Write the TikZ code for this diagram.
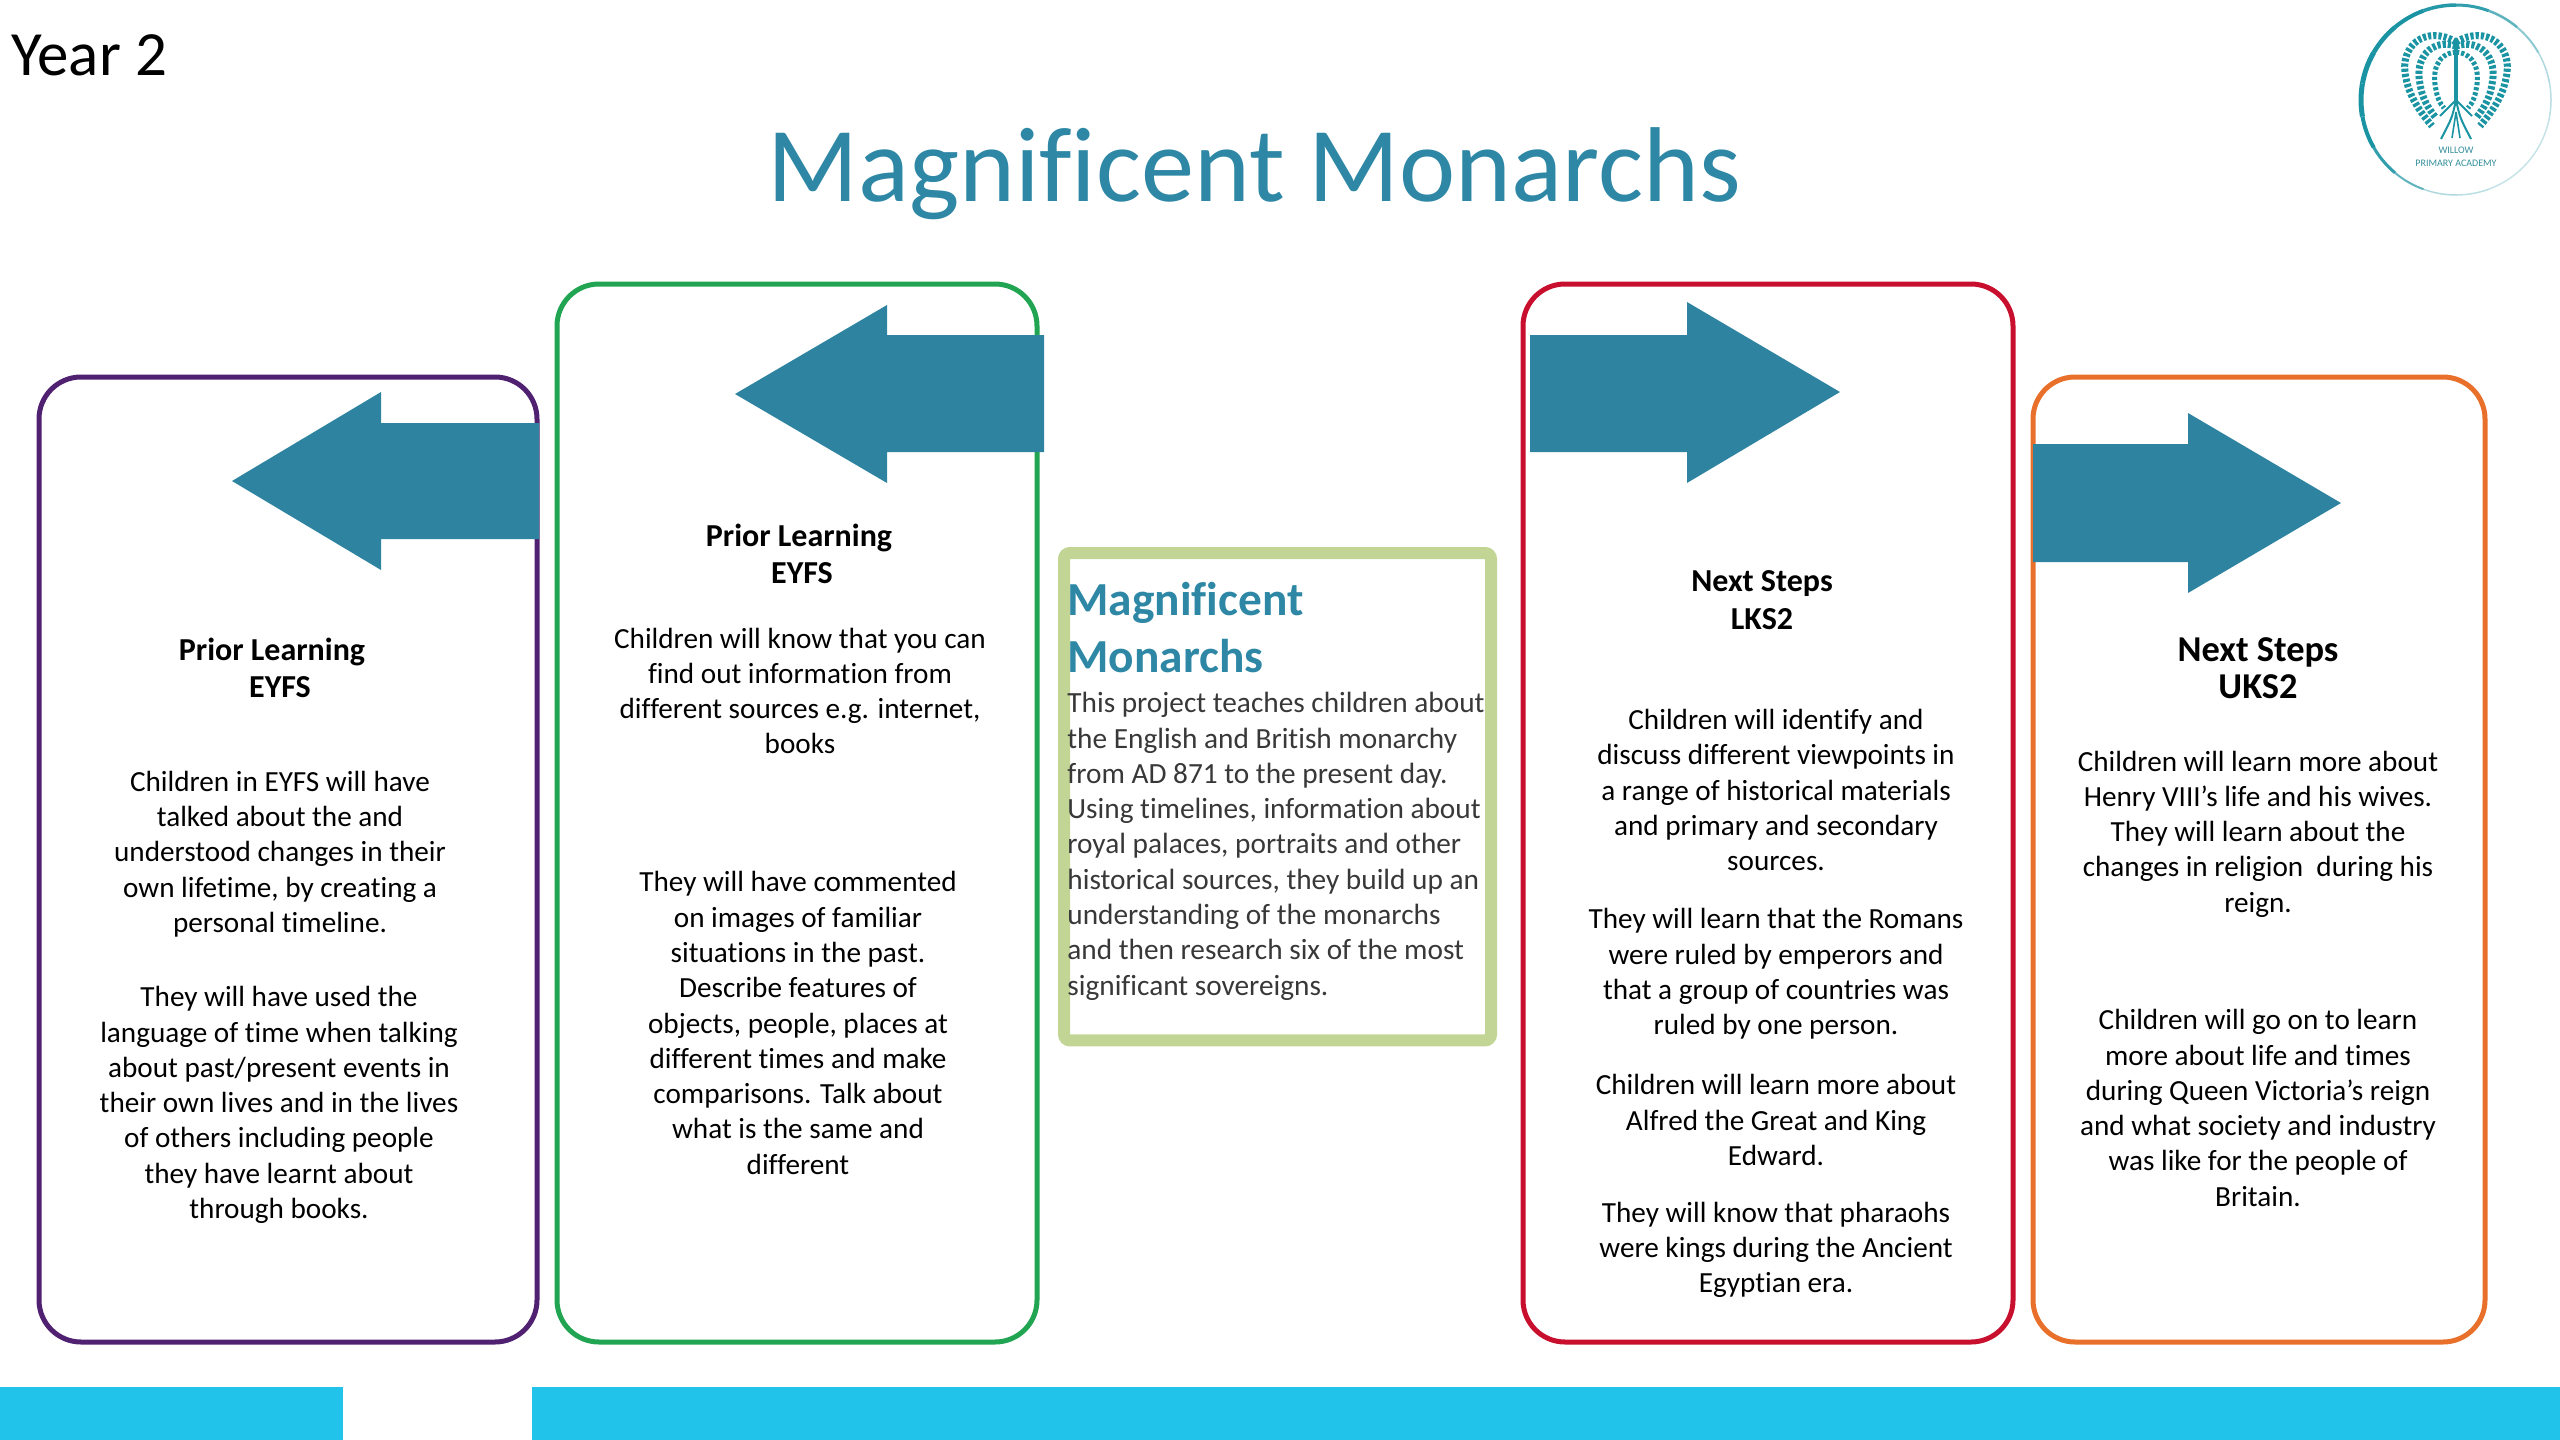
\documentclass[tikz,border=0pt]{standalone}
\usepackage{fontspec}
\setmainfont{Carlito}[Ligatures=CommonOff]
\definecolor{tealarrow}{HTML}{2E84A0}
\definecolor{titleteal}{HTML}{2D87A5}
\definecolor{barblue}{HTML}{22C3EA}
\definecolor{logoteal}{HTML}{1A93A3}
\definecolor{panelpurple}{HTML}{4F2170}
\definecolor{panelgreen}{HTML}{22A552}
\definecolor{panelred}{HTML}{C8102E}
\definecolor{panelorange}{HTML}{E8702A}
\definecolor{panelolive}{HTML}{C3D594}
\tikzset{
    panel/.style={draw, rounded corners=21pt, line width=2.5pt, inner sep=0pt, outer sep=0pt, anchor=north west},
    bodytext/.style={align=center, inner sep=0pt, text=black, font=\fontsize{14.6}{17.65}\selectfont},
    headtext/.style={bodytext, font=\fontsize{16}{18.8}\selectfont\bfseries},
    bigarrow/.style={fill=tealarrow},
    branch/.style={logoteal, line width=3.5pt, dash pattern=on 1.6pt off 1pt},
}
\begin{document}
\begin{tikzpicture}[x=0.5pt, y=-0.5pt]
    \useasboundingbox (0, 0) rectangle (2560, 1440);

    % Header
    \node[anchor=west, inner sep=0pt, font=\fontsize{31.5}{36}\selectfont] (yearlabel) at (11, 55) {Year 2};
    \node[inner sep=0pt, text=titleteal, font=\fontsize{53.2}{64}\selectfont] (maintitle) at (1254, 174) {Magnificent Monarchs};

    % Footer bars
    \fill[barblue] (0, 1387) rectangle (343, 1440);
    \fill[barblue] (532, 1387) rectangle (2560, 1440);

    % Logo
    \foreach \a/\w/\o in {90/1.5/.35, 110/2/.7, 130/3/.9, 150/4/1, 170/5/1, 190/5/1, 210/4.5/1, 230/4/1, 250/3.5/.95, 270/3/.9, 290/2.5/.7, 310/2/.5, 330/1.5/.35, 350/1.5/.3, 10/1.5/.25, 30/1.5/.25, 50/1.5/.25, 70/1.5/.3}
        \draw[logoteal, opacity=\o, line width=\w*0.5pt] (2456, 100) ++(\a:95) arc[start angle=\a, delta angle=20, radius=95];
    \foreach \s in {1, -1} {
        \draw[branch] (2456, 42) .. controls (2456+\s*-30, 24) and (2456+\s*-58, 46) .. (2456+\s*-50, 78) .. controls (2456+\s*-47, 96) and (2456+\s*-36, 112) .. (2456+\s*-24, 126);
        \draw[branch] (2456, 46) .. controls (2456+\s*-24, 38) and (2456+\s*-42, 58) .. (2456+\s*-36, 84) .. controls (2456+\s*-34, 98) and (2456+\s*-28, 108) .. (2456+\s*-20, 118);
        \draw[branch, line width=2.5pt] (2456, 52) .. controls (2456+\s*-20, 54) and (2456+\s*-24, 72) .. (2456+\s*-20, 90) .. controls (2456+\s*-19, 97) and (2456+\s*-16, 104) .. (2456+\s*-12, 108);
        \draw[logoteal, line width=1pt] (2456, 100) -- (2456+\s*-16, 116);
        \draw[logoteal, line width=1pt] (2456, 100) .. controls (2456+\s*-4, 118) .. (2456+\s*-15, 139);
        \draw[logoteal, line width=0.8pt] (2456, 112) -- (2456+\s*-4, 138);
    }
    \draw[logoteal, line width=2.2pt] (2456, 42) -- (2456, 102);
    \node[inner sep=0pt, align=center, text=logoteal!75!gray, font=\fontsize{5}{6.4}\selectfont] (logotext) at (2456, 157) {WILLOW\\PRIMARY ACADEMY};

    % Panels
    \node[panel, draw=panelpurple, minimum width=249pt, minimum height=482.5pt] (priorA) at (39, 377) {};
    \node[panel, draw=panelgreen, minimum width=240pt, minimum height=529pt] (priorB) at (557, 284) {};
    \node[panel, draw=panelred, minimum width=245pt, minimum height=529pt] (nextA) at (1523, 284) {};
    \node[panel, draw=panelorange, minimum width=226pt, minimum height=482.5pt] (nextB) at (2033, 377) {};

    % Arrows
    \fill[bigarrow] (232, 481) -- (381, 392) -- (381, 423) -- (539, 423) -- (539, 539) -- (381, 539) -- (381, 570) -- cycle;
    \fill[bigarrow] (735, 394) -- (887, 305) -- (887, 335) -- (1044, 335) -- (1044, 452) -- (887, 452) -- (887, 483) -- cycle;
    \fill[bigarrow] (1840, 392) -- (1687, 302) -- (1687, 335) -- (1530, 335) -- (1530, 452) -- (1687, 452) -- (1687, 483) -- cycle;
    \fill[bigarrow] (2341, 503) -- (2188, 413) -- (2188, 444) -- (2033, 444) -- (2033, 562) -- (2188, 562) -- (2188, 593) -- cycle;

    % Prior Learning (left)
    \node[headtext] (priorAhead) at (280, 668) {Prior Learning\hspace*{8pt}\\EYFS};
    \node[bodytext] (priorAone) at (280, 854) {Children in EYFS will have\\talked about the and\\understood changes in their\\own lifetime, by creating a\\personal timeline.};
    \node[bodytext] (priorAtwo) at (279, 1105) {They will have used the\\language of time when talking\\about past/present events in\\their own lives and in the lives\\of others including people\\they have learnt about\\through books.};

    % Prior Learning (second)
    \node[headtext] (priorBhead) at (802, 554) {Prior Learning\hspace*{3pt}\\EYFS};
    \node[bodytext] (priorBone) at (800, 691) {Children will know that you can\\find out information from\\different sources e.g. internet,\\books};
    \node[bodytext] (priorBtwo) at (798, 1023) {They will have commented\\on images of familiar\\situations in the past.\\Describe features of\\objects, people, places at\\different times and make\\comparisons. Talk about\\what is the same and\\different};

    % Centre box
    \node[draw=panelolive, line width=6pt, rounded corners=3pt, inner sep=0pt, outer sep=0pt, anchor=north west, minimum width=213.5pt, minimum height=243.7pt] (centrebox) at (1064, 553) {};
    \node[inner sep=0pt, align=left, anchor=north west, text=titleteal, font=\fontsize{23.7}{28.4}\selectfont\bfseries] (centrehead) at (1067, 582) {Magnificent\\Monarchs};
    \node[inner sep=0pt, align=left, anchor=north west, text=black!78, font=\fontsize{14.65}{17.65}\selectfont] (centrebody) at (1067, 692) {This project teaches children about\\the English and British monarchy\\from AD 871 to the present day.\\Using timelines, information about\\royal palaces, portraits and other\\historical sources, they build up an\\understanding of the monarchs\\and then research six of the most\\significant sovereigns.};

    % Next Steps (LKS2)
    \node[headtext] (nextAhead) at (1762, 600) {Next Steps\\LKS2};
    \node[bodytext] (nextAone) at (1776, 790) {Children will identify and\\discuss different viewpoints in\\a range of historical materials\\and primary and secondary\\sources.};
    \node[bodytext] (nextAtwo) at (1776, 974) {They will learn that the Romans\\were ruled by emperors and\\that a group of countries was\\ruled by one person.};
    \node[bodytext] (nextAthree) at (1776, 1120) {Children will learn more about\\Alfred the Great and King\\Edward.};
    \node[bodytext] (nextAfour) at (1776, 1250) {They will know that pharaohs\\were kings during the Ancient\\Egyptian era.};

    % Next Steps (UKS2)
    \node[headtext, font=\fontsize{18.2}{18.8}\selectfont\bfseries] (nextBhead) at (2258, 668) {Next Steps\\UKS2};
    \node[bodytext] (nextBone) at (2258, 834) {Children will learn more about\\Henry VIII’s life and his wives.\\They will learn about the\\changes in religion~ during his\\reign.};
    \node[bodytext] (nextBtwo) at (2258, 1108) {Children will go on to learn\\more about life and times\\during Queen Victoria’s reign\\and what society and industry\\was like for the people of\\Britain.};
\end{tikzpicture}
\end{document}
